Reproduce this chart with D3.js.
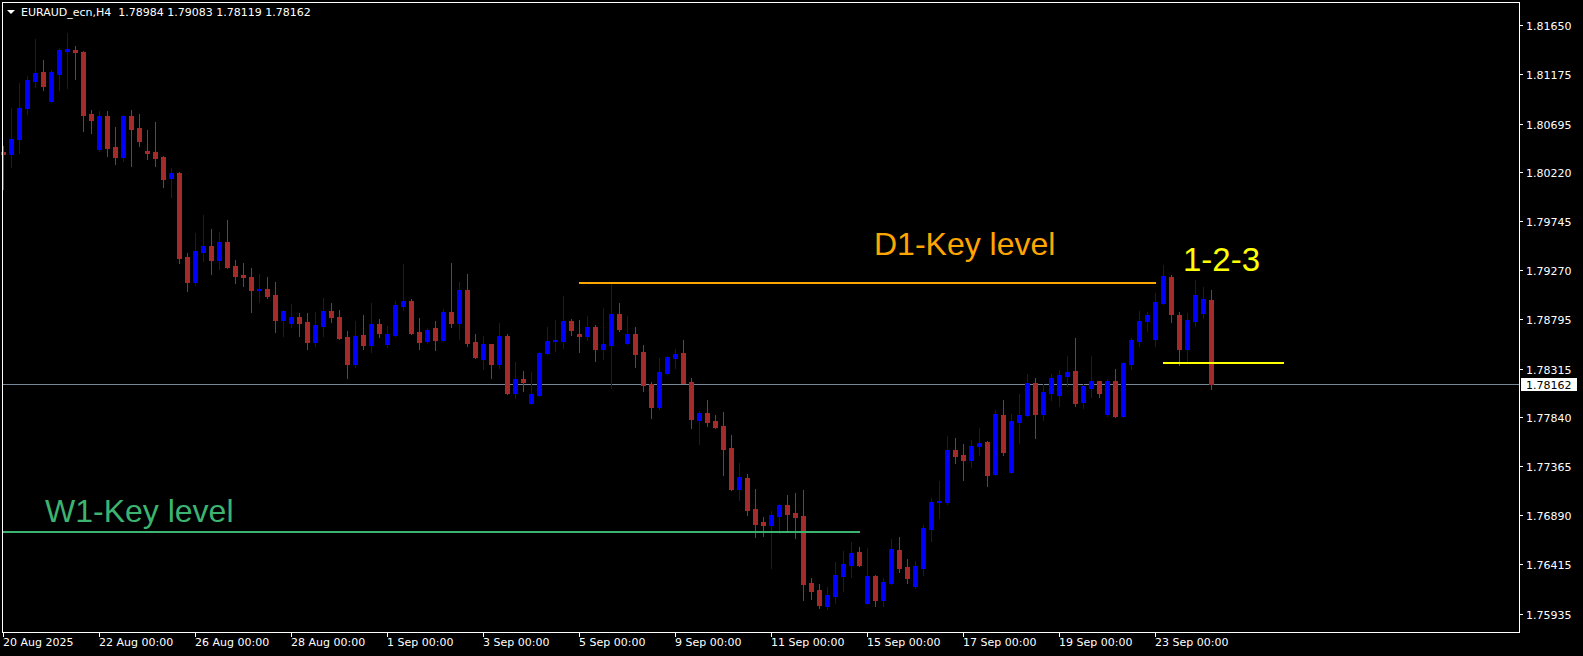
<!DOCTYPE html>
<html><head><meta charset="utf-8">
<script src="https://cdn.jsdelivr.net/npm/d3@7"></script>
<style>html,body{margin:0;padding:0;background:#000;overflow:hidden}svg{display:block}</style>
</head><body><svg id="chart" width="1583" height="656"></svg>
<script>
const symbolTitle = "EURAUD_ecn,H4";
const openP = [
1.80419,1.80402,1.80545,1.80845,1.81108,1.81196,1.80914,1.81179,1.81400,1.81409,
1.81390,1.80788,1.80448,1.80768,1.80467,1.80370,1.80768,1.80652,1.80428,1.80419,
1.80370,1.80166,1.80215,1.79399,1.79156,1.79447,1.79505,1.79369,1.79544,1.79311,
1.79224,1.79204,1.79083,1.79088,1.79029,1.78787,1.78757,1.78816,1.78767,1.78573,
1.78728,1.78874,1.78816,1.78621,1.78359,1.78641,1.78544,1.78748,1.78553,1.78641,
1.78923,1.78971,1.78670,1.78583,1.78709,1.78592,1.78864,1.78757,1.79078,1.78573,
1.78408,1.78553,1.78359,1.78631,1.78077,1.78213,1.77980,1.78058,1.78466,1.78583,
1.78583,1.78777,1.78651,1.78631,1.78719,1.78505,1.78544,1.78845,1.78563,1.78651,
1.78476,1.78165,1.77941,1.78272,1.78417,1.78466,1.78184,1.77815,1.77883,1.77805,
1.77757,1.77543,1.77145,1.77252,1.76950,1.76824,1.76795,1.76882,1.76989,1.76911,
1.76882,1.76231,1.76164,1.76008,1.76105,1.76300,1.76406,1.76533,1.76037,1.76300,
1.76067,1.76231,1.76552,1.76387,1.76203,1.76377,1.76756,1.77019,1.77019,1.77524,
1.77475,1.77427,1.77563,1.77601,1.77290,1.77864,1.77310,1.77796,1.77864,1.78175,
1.77873,1.78077,1.78058,1.78243,1.78291,1.77990,1.78126,1.78194,1.77873,1.78194,
1.77854,1.78359,1.78583,1.78777,1.78602,1.78952,1.79204,1.78835,1.78505,1.78777,
1.78855,1.78984];
const highP = [
1.80477,1.80846,1.81089,1.81157,1.81516,1.81312,1.81220,1.81429,1.81574,1.81448,
1.81398,1.80827,1.80817,1.80817,1.80661,1.80778,1.80827,1.80788,1.80632,1.80710,
1.80380,1.80263,1.80224,1.79437,1.79632,1.79807,1.79671,1.79641,1.79758,1.79369,
1.79340,1.79292,1.79233,1.79204,1.79156,1.78884,1.78942,1.78855,1.78855,1.78864,
1.79000,1.78952,1.78884,1.78680,1.78777,1.78835,1.78952,1.78796,1.78728,1.78971,
1.79330,1.78991,1.78806,1.78709,1.78777,1.78893,1.79340,1.79156,1.79233,1.78651,
1.78631,1.78558,1.78757,1.78651,1.78379,1.78291,1.78282,1.78476,1.78719,1.78787,
1.79020,1.78796,1.78787,1.78825,1.78738,1.78903,1.79136,1.78952,1.78825,1.78719,
1.78544,1.78184,1.78417,1.78437,1.78505,1.78592,1.78223,1.77903,1.78009,1.77864,
1.77893,1.77669,1.77397,1.77290,1.77145,1.76873,1.76931,1.76999,1.77087,1.77106,
1.77135,1.76280,1.76222,1.76193,1.76436,1.76543,1.76630,1.76581,1.76572,1.76309,
1.76280,1.76659,1.76679,1.76465,1.76445,1.76795,1.77057,1.77223,1.77660,1.77640,
1.77582,1.77621,1.77737,1.77611,1.77912,1.78009,1.77873,1.78068,1.78262,1.78223,
1.78165,1.78262,1.78301,1.78437,1.78612,1.78165,1.78437,1.78199,1.78213,1.78311,
1.78374,1.78612,1.78874,1.78864,1.79049,1.79321,1.79224,1.78864,1.78855,1.79175,
1.79107,1.79083];
const lowP = [
1.80062,1.80276,1.80409,1.80790,1.81050,1.81021,1.80904,1.81021,1.81040,1.81128,
1.80623,1.80603,1.80428,1.80380,1.80302,1.80331,1.80283,1.80477,1.80351,1.80283,
1.80079,1.79981,1.79340,1.79068,1.79127,1.79360,1.79233,1.79282,1.79295,1.79146,
1.79117,1.78864,1.78961,1.79000,1.78670,1.78631,1.78719,1.78631,1.78505,1.78534,
1.78631,1.78767,1.78605,1.78223,1.78330,1.78505,1.78476,1.78621,1.78524,1.78631,
1.78884,1.78651,1.78505,1.78563,1.78495,1.78583,1.78719,1.78602,1.78534,1.78422,
1.78311,1.78223,1.78320,1.78072,1.78029,1.78097,1.77975,1.78048,1.78456,1.78485,
1.78515,1.78641,1.78476,1.78592,1.78388,1.78408,1.78126,1.78680,1.78553,1.78330,
1.78097,1.77835,1.77922,1.78267,1.78320,1.78170,1.77737,1.77582,1.77757,1.77742,
1.77281,1.77140,1.77038,1.76892,1.76679,1.76689,1.76377,1.76717,1.76747,1.76669,
1.76066,1.76076,1.75989,1.75979,1.76037,1.76154,1.76290,1.76397,1.76032,1.76008,
1.76008,1.76222,1.76339,1.76231,1.76183,1.76309,1.76640,1.76863,1.76999,1.77397,
1.77232,1.77359,1.77475,1.77174,1.77281,1.77475,1.77305,1.77592,1.77854,1.77640,
1.77815,1.78009,1.77951,1.78146,1.77951,1.77932,1.78039,1.78039,1.77854,1.77844,
1.77844,1.78311,1.78534,1.78680,1.78534,1.78947,1.78767,1.78349,1.78379,1.78728,
1.78806,1.78119];
const closeP = [
1.80402,1.80545,1.80845,1.81118,1.81186,1.81063,1.81196,1.81410,1.81419,1.81390,
1.80778,1.80729,1.80768,1.80457,1.80370,1.80768,1.80642,1.80525,1.80409,1.80360,
1.80156,1.80215,1.79389,1.79156,1.79457,1.79505,1.79369,1.79544,1.79301,1.79214,
1.79204,1.79078,1.79088,1.79020,1.78787,1.78874,1.78816,1.78757,1.78573,1.78738,
1.78874,1.78816,1.78612,1.78359,1.78631,1.78544,1.78748,1.78660,1.78651,1.78932,
1.78971,1.78660,1.78573,1.78689,1.78592,1.78864,1.78757,1.79078,1.78563,1.78427,
1.78553,1.78359,1.78631,1.78077,1.78213,1.78184,1.78068,1.78466,1.78583,1.78592,
1.78777,1.78689,1.78631,1.78719,1.78505,1.78553,1.78845,1.78699,1.78651,1.78456,
1.78155,1.77941,1.78281,1.78427,1.78456,1.78175,1.77825,1.77883,1.77796,1.77747,
1.77533,1.77145,1.77261,1.76941,1.76805,1.76795,1.76892,1.76989,1.76902,1.76873,
1.76222,1.76154,1.76018,1.76115,1.76309,1.76416,1.76523,1.76406,1.76300,1.76067,
1.76241,1.76562,1.76377,1.76280,1.76397,1.76766,1.77019,1.77028,1.77524,1.77465,
1.77427,1.77563,1.77592,1.77281,1.77873,1.77504,1.77805,1.77864,1.78175,1.77873,
1.78087,1.78223,1.78252,1.78282,1.77980,1.78145,1.78194,1.78077,1.78194,1.77854,
1.78369,1.78592,1.78777,1.78835,1.78961,1.79214,1.78845,1.78505,1.78787,1.79029,
1.78991,1.78162];
const timeTickIndex = [0,12,24,36,48,60,72,84,96,108,120,132,144];
const timeTickLabels = ["20 Aug 2025","22 Aug 00:00","26 Aug 00:00","28 Aug 00:00","1 Sep 00:00","3 Sep 00:00","5 Sep 00:00","9 Sep 00:00","11 Sep 00:00","15 Sep 00:00","17 Sep 00:00","19 Sep 00:00","23 Sep 00:00"];
const priceTicks = [1.81650,1.81175,1.80695,1.80220,1.79745,1.79270,1.78795,1.78315,1.77840,1.77365,1.76890,1.76415,1.75935];
const lastPrice = 1.78162;
const levelNames = ["D1-Key level","W1-Key level","1-2-3"];
const levelPrices = [1.79147,1.76726,1.78369];
const levelFrom = [72,0,145];
const levelTo = [144,107,160];

(function(){
const W = 1583, H = 656;
const pL = 2, pR = 1519, pT = 2, pB = 632;
const svg = d3.select("#chart");
svg.append("rect").attr("width",W).attr("height",H).attr("fill","#000");

const x = d3.scaleLinear().domain([0,151]).range([3.5,1211.5]);
const y = d3.scaleLinear().domain([1.75756,1.81876]).range([pB,pT]);

const bars = openP.map((o,i)=>({i,o,h:highP[i],l:lowP[i],c:closeP[i]}));

// bid line
const by = Math.round(y(lastPrice))+0.5;
svg.append("line").attr("x1",pL).attr("x2",pR).attr("y1",by).attr("y2",by)
  .attr("stroke","#778899").attr("stroke-width",1);

const bull="#0000ff", bear="#a52a2a";
const g = svg.append("g").attr("shape-rendering","crispEdges");
g.selectAll("rect.wick").data(bars).join("rect").attr("class","wick")
  .attr("x",d=>x(d.i)-0.5).attr("width",1)
  .attr("y",d=>Math.round(y(d.h))).attr("height",d=>Math.max(1,Math.round(y(d.l))-Math.round(y(d.h))+1))
  .attr("fill",d=>d.c>=d.o?bull:bear);
g.selectAll("rect.body").data(bars).join("rect").attr("class","body")
  .attr("x",d=>x(d.i)-2.5).attr("width",5)
  .attr("y",d=>Math.round(y(Math.max(d.o,d.c))))
  .attr("height",d=>Math.max(1,Math.round(y(Math.min(d.o,d.c)))-Math.round(y(Math.max(d.o,d.c)))+1))
  .attr("fill",d=>d.c>=d.o?bull:bear);

// level lines
const levelColors = ["#ffa500","#3cb371","#ffff00"];
levelPrices.forEach((p,k)=>{
  const yy = Math.round(y(p));
  const x0 = k===1 ? 3 : x(levelFrom[k])-0.5;
  svg.append("rect").attr("x",x0).attr("y",yy-1)
    .attr("width",x(levelTo[k])-x0).attr("height",2)
    .attr("fill",levelColors[k]).attr("shape-rendering","crispEdges");
});

// annotation texts
const font = "'Liberation Sans', Arial, sans-serif";
svg.append("text").attr("x",874).attr("y",255).text(levelNames[0])
  .attr("fill","#ffa500").attr("font-family",font).attr("font-size",32);
svg.append("text").attr("x",45).attr("y",522).text(levelNames[1])
  .attr("fill","#3cb371").attr("font-family",font).attr("font-size",32);
svg.append("text").attr("x",1183).attr("y",271).text(levelNames[2])
  .attr("fill","#ffff00").attr("font-family",font).attr("font-size",33);

// frame
svg.append("rect").attr("x",pL+0.5).attr("y",pT+0.5).attr("width",pR-pL).attr("height",pB-pT)
  .attr("fill","none").attr("stroke","#fff").attr("stroke-width",1).attr("shape-rendering","crispEdges");

const axisFont = "'DejaVu Sans', Verdana, sans-serif";
// right axis
const ra = svg.append("g");
priceTicks.forEach(v=>{
  const yy = Math.round(y(v))+0.5;
  ra.append("line").attr("x1",pR).attr("x2",pR+4).attr("y1",yy).attr("y2",yy).attr("stroke","#fff");
  ra.append("text").attr("x",1526).attr("y",yy+4).text(v.toFixed(5))
    .attr("fill","#fff").attr("font-family",axisFont).attr("font-size",11);
});
ra.append("rect").attr("x",1521).attr("y",by-6.5).attr("width",56).attr("height",13).attr("fill","#fff");
ra.append("text").attr("x",1526).attr("y",by+4).text(lastPrice.toFixed(5))
  .attr("fill","#000").attr("font-family",axisFont).attr("font-size",11);

// bottom axis
const ba = svg.append("g");
timeTickIndex.forEach((ti,k)=>{
  const xx = x(ti);
  ba.append("line").attr("x1",xx).attr("x2",xx).attr("y1",pB).attr("y2",pB+5).attr("stroke","#fff");
  ba.append("text").attr("x",Math.max(3,xx-0.5)).attr("y",646).text(timeTickLabels[k])
    .attr("fill","#fff").attr("font-family",axisFont).attr("font-size",11);
});

// header
svg.append("path").attr("d","M7,10 L15,10 L11,14 Z").attr("fill","#fff");
svg.append("text").attr("x",21).attr("y",16).style("white-space","pre")
  .text(symbolTitle+"  "+[openP[151],highP[151],lowP[151],closeP[151]].map(v=>v.toFixed(5)).join(" "))
  .attr("fill","#fff").attr("font-family",axisFont).attr("font-size",11);
})();
</script></body></html>
